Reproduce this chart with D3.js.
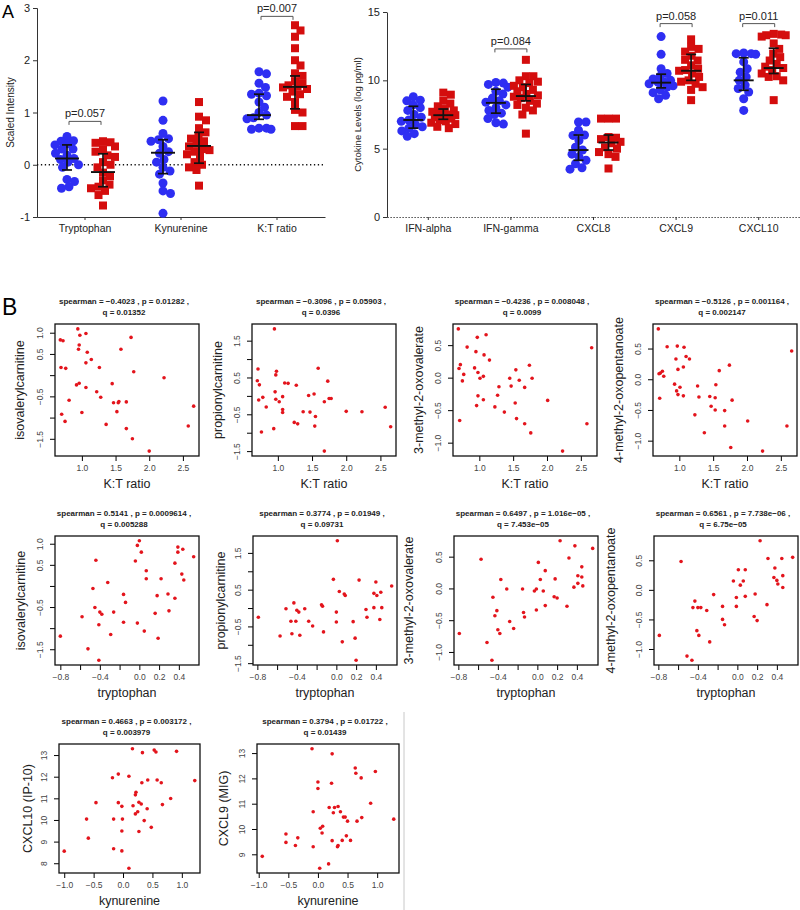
<!DOCTYPE html>
<meta charset="utf-8">
<script src="https://cdn.jsdelivr.net/npm/d3@7"></script>
<style>
body{margin:0;background:#fff}
svg{font-family:Arial,"Liberation Sans",sans-serif}
</style>
<body>
<script>
// ---------- panel A, metabolites ----------
var metabCats = ["Tryptophan","Kynurenine","K:T ratio"];
var trpCtl  = [0.54,0.46,0.45,0.40,0.38,0.30,0.30,0.22,0.18,0.12,0.10,0.05,0.0,-0.05,-0.28,-0.32,-0.42,-0.45];
var trpCase = [0.45,0.43,0.42,0.35,0.30,0.25,0.18,0.15,0.05,0.0,-0.05,-0.15,-0.22,-0.30,-0.38,-0.42,-0.45,-0.50,-0.58,-0.78];
var kynCtl  = [1.22,0.85,0.60,0.50,0.48,0.45,0.35,0.25,0.22,0.10,0.05,-0.05,-0.12,-0.18,-0.35,-0.50,-0.55,-0.93];
var kynCase = [1.20,0.92,0.85,0.70,0.62,0.55,0.50,0.45,0.40,0.35,0.30,0.28,0.25,0.20,0.15,0.05,0.0,-0.05,-0.10,-0.40];
var ktCtl   = [1.78,1.74,1.56,1.48,1.37,1.35,1.32,1.20,1.10,1.00,0.95,0.90,0.88,0.70,0.70,0.68,0.68];
var ktCase  = [2.67,2.57,2.45,2.23,2.00,1.90,1.75,1.70,1.60,1.55,1.52,1.50,1.48,1.45,1.40,1.35,1.30,1.20,1.05,1.00,0.74,0.74];
var metabCtlMid = [0.12,0.23,0.95], metabCtlLo = [-0.10,-0.17,0.87], metabCtlHi = [0.38,0.48,1.35];
var metabCaseMid = [-0.14,0.36,1.49], metabCaseLo = [-0.42,0.03,1.07], metabCaseHi = [0.21,0.62,1.70];
var metabPCat = [0,2], metabPText = ["p=0.057","p=0.007"], metabPLevel = [0.83,2.84];
var metabTicks = [-1,0,1,2,3];

// ---------- panel A, cytokines ----------
var cytoCats = ["IFN-alpha","IFN-gamma","CXCL8","CXCL9","CXCL10"];
var ifnaCtl  = [8.8,8.55,8.5,8.2,8.0,7.8,7.5,7.3,7.1,7.0,6.8,6.6,6.5,6.3,6.1,5.9];
var ifnaCase = [9.1,8.95,8.5,8.3,8.1,7.9,7.8,7.7,7.6,7.5,7.45,7.4,7.3,7.2,7.1,7.0,6.9,6.8,6.6,6.5];
var ifngCtl  = [9.85,9.8,9.7,9.5,9.2,9.0,8.7,8.5,8.4,8.2,8.0,7.8,7.6,7.5,7.2,6.9,6.8];
var ifngCase = [11.5,10.3,10.3,10.0,9.9,9.8,9.6,9.5,9.3,9.2,9.0,8.9,8.8,8.7,8.5,8.3,8.2,8.0,7.8,7.5,6.1];
var cxcl8Ctl  = [6.95,6.95,6.35,6.0,5.97,5.6,5.1,4.9,4.6,4.4,4.15,3.9,3.6,3.5];
var cxcl8Case = [7.2,7.2,7.2,5.85,5.8,5.7,5.5,5.4,5.1,5.0,4.75,4.6,4.4,3.55];
var cxcl9Ctl  = [13.2,11.9,10.85,10.5,10.3,10.1,10.0,9.9,9.85,9.75,9.6,9.5,9.3,9.1,8.9,8.65];
var cxcl9Case = [13.0,12.45,12.3,12.1,11.8,11.5,11.45,11.1,10.85,10.75,10.7,10.5,10.25,10.0,9.9,9.75,9.5,9.3,8.55];
var cxcl10Ctl  = [12.0,11.95,11.9,11.95,11.35,10.85,10.6,10.25,10.0,9.65,9.4,9.15,8.65,7.8];
var cxcl10Case = [13.4,13.35,13.3,13.3,13.2,12.7,12.3,11.95,11.7,11.45,11.2,11.0,10.9,10.75,10.5,10.3,10.25,10.0,8.55];
var cytoCtlMid = [7.1,8.35,4.9,9.83,10.0], cytoCtlLo = [6.5,7.6,4.15,9.45,9.27], cytoCtlHi = [8.1,9.35,6.0,10.45,11.65];
var cytoCaseMid = [7.45,8.85,5.45,10.7,10.9], cytoCaseLo = [7.15,8.5,4.9,10.0,10.5], cytoCaseHi = [7.9,9.7,6.0,11.9,12.35];
var cytoPCat = [1,3,4], cytoPText = ["p=0.084","p=0.058","p=0.011"], cytoPLevel = [12.3,14.15,14.15];
var cytoTicks = [0,5,10,15];

// ---------- panel B, scatter plots ----------
var isoKtX = [0.94,1.06,0.97,0.68,0.72,1.73,0.96,0.95,1.08,1.58,1.14,1.06,1.26,0.69,0.76,1.77,2.22,0.96,0.92,1.45,1.06,1.22,1.28,0.81,1.47,1.54,1.55,1.66,2.66,0.70,1.0,1.52,0.75,1.36,2.58,1.66,1.75,2.00];
var isoKtY = [1.09,0.98,0.94,0.83,0.81,0.89,0.71,0.61,0.54,0.61,0.37,0.29,0.18,0.18,0.16,0.08,-0.06,-0.19,-0.23,-0.20,-0.29,-0.39,-0.52,-0.59,-0.65,-0.65,-0.62,-0.63,-0.73,-0.92,-0.88,-0.86,-1.09,-1.16,-1.20,-1.26,-1.50,-1.79];
var propKtX = [0.95,0.71,1.59,0.98,0.97,0.70,0.73,1.73,1.10,1.15,1.27,0.96,0.78,0.72,0.97,1.07,1.02,1.45,1.53,1.68,1.75,1.78,0.83,1.07,1.07,1.37,1.47,2.00,2.23,2.57,1.55,1.24,1.29,1.54,0.76,0.94,2.65,1.68];
var propKtY = [1.82,0.73,0.75,0.67,0.57,0.41,0.30,0.40,0.35,0.34,0.29,0.11,-0.04,-0.11,-0.09,-0.02,-0.16,0.01,0.05,-0.16,-0.07,-0.07,-0.30,-0.37,-0.45,-0.43,-0.44,-0.42,-0.43,-0.31,-0.56,-0.72,-0.76,-0.82,-0.98,-0.89,-0.84,-1.50];
var mo3KtX = [0.69,1.10,0.97,0.82,2.66,0.95,1.07,1.15,0.72,0.70,1.74,1.54,0.93,0.98,0.77,1.06,1.01,0.75,1.45,1.59,1.78,1.29,1.47,1.67,0.98,1.27,1.06,2.01,1.53,0.96,1.23,1.37,1.55,0.71,1.67,2.59,1.76,2.23];
var mo3KtY = [0.75,0.66,0.62,0.47,0.46,0.40,0.35,0.27,0.20,0.14,0.19,0.12,0.15,0.08,0.05,0.02,-0.01,-0.05,-0.01,-0.04,-0.01,-0.14,-0.13,-0.15,-0.28,-0.27,-0.34,-0.35,-0.39,-0.43,-0.45,-0.53,-0.63,-0.66,-0.71,-0.71,-0.85,-1.13];
var mo4KtX = [0.69,0.82,0.97,1.07,2.66,0.95,1.10,1.15,1.06,0.98,1.74,1.59,0.75,0.72,0.70,0.77,0.93,1.54,1.01,0.96,0.98,1.27,1.06,0.71,1.29,1.45,1.53,1.78,1.47,1.53,1.67,1.23,2.01,1.67,2.59,1.37,1.76,2.23];
var mo4KtY = [0.82,0.53,0.54,0.52,0.46,0.33,0.37,0.33,0.20,0.16,0.23,0.14,0.13,0.10,0.09,0.05,-0.08,-0.09,-0.13,-0.19,-0.25,-0.11,-0.27,-0.31,-0.29,-0.28,-0.30,-0.34,-0.44,-0.50,-0.51,-0.58,-0.68,-0.76,-0.76,-0.87,-1.11,-1.17];
var isoTrpX = [0.0,-0.02,0.39,0.44,0.02,0.39,0.55,-0.44,-0.04,0.36,0.07,0.43,0.07,0.22,0.45,-0.32,-0.47,-0.16,0.29,0.18,0.36,-0.14,-0.45,0.30,-0.40,-0.26,-0.38,0.16,-0.58,-0.16,-0.02,-0.41,0.05,-0.29,-0.80,0.19,-0.52,-0.41];
var isoTrpY = [1.07,0.96,0.92,0.87,0.80,0.80,0.69,0.61,0.59,0.54,0.36,0.28,0.17,0.17,0.14,0.08,-0.06,-0.20,-0.19,-0.23,-0.29,-0.39,-0.51,-0.59,-0.62,-0.62,-0.67,-0.65,-0.73,-0.86,-0.88,-0.92,-1.07,-1.15,-1.19,-1.24,-1.49,-1.76];
var propTrpX = [0.01,-0.03,0.23,0.40,0.56,0.03,0.08,0.09,0.45,0.38,0.41,-0.43,-0.15,-0.14,-0.51,-0.40,-0.38,-0.32,0.38,0.46,0.30,0.0,0.31,-0.46,-0.41,-0.28,0.0,0.17,0.44,-0.24,-0.13,-0.45,-0.57,-0.37,0.06,0.19,-0.79,0.20];
var propTrpY = [1.83,0.78,0.76,0.71,0.60,0.45,0.38,0.34,0.43,0.40,0.34,0.14,0.09,0.05,-0.02,-0.06,-0.11,-0.02,0.01,0.01,-0.04,-0.11,-0.25,-0.36,-0.36,-0.36,-0.38,-0.37,-0.31,-0.49,-0.65,-0.70,-0.76,-0.74,-0.92,-0.82,-0.25,-1.42];
var mo3TrpX = [0.23,0.38,0.56,-0.57,0.32,0.01,0.45,0.08,0.41,0.45,0.18,-0.37,0.03,0.37,0.46,0.41,-0.31,-0.15,-0.01,-0.03,0.06,0.17,0.20,-0.45,0.08,0.30,-0.41,-0.01,-0.14,-0.13,-0.43,-0.28,-0.24,-0.40,-0.38,-0.79,-0.51,-0.46];
var mo3TrpY = [0.75,0.67,0.63,0.46,0.48,0.41,0.34,0.28,0.20,0.18,0.15,0.14,0.14,0.02,0.04,0.08,-0.01,-0.01,-0.01,-0.04,-0.04,-0.13,-0.15,-0.14,-0.27,-0.28,-0.35,-0.34,-0.38,-0.45,-0.43,-0.52,-0.63,-0.65,-0.71,-0.71,-0.85,-1.13];
var mo4TrpX = [0.23,0.56,0.31,0.45,-0.57,0.01,0.08,0.38,0.37,0.40,0.46,-0.04,0.06,0.03,0.41,0.46,-0.24,0.18,0.08,-0.01,-0.43,-0.15,-0.01,-0.45,-0.40,-0.37,-0.31,0.30,-0.15,0.17,0.20,-0.13,-0.41,-0.39,-0.28,-0.79,-0.51,-0.46];
var mo4TrpY = [0.83,0.55,0.53,0.53,0.48,0.34,0.34,0.37,0.21,0.16,0.24,0.15,0.15,0.08,0.10,0.04,-0.08,-0.07,-0.11,-0.13,-0.19,-0.28,-0.28,-0.30,-0.30,-0.30,-0.35,-0.25,-0.50,-0.45,-0.52,-0.59,-0.69,-0.77,-0.88,-0.77,-1.12,-1.19];
var cxcl10KynX = [0.16,0.53,0.56,0.91,0.33,-0.08,-0.18,0.10,0.32,0.42,0.58,0.65,1.22,0.22,0.21,0.81,-0.46,-0.08,0.27,0.31,-0.02,0.17,0.67,0.41,0.21,0.25,-0.62,-0.16,-0.01,0.36,0.48,-0.02,0.27,-0.59,-0.16,-0.02,-1.0,0.10];
var cxcl10KynY = [13.29,13.23,13.14,13.17,13.11,12.12,11.95,12.02,11.72,11.85,11.85,11.72,11.82,11.28,11.16,10.99,10.80,10.80,10.82,10.74,10.63,10.66,10.71,10.52,10.28,10.38,10.04,10.04,10.04,9.97,9.66,9.49,9.47,9.16,8.67,8.57,8.56,7.77];
var cxcl9KynX = [-0.10,0.24,0.63,0.97,0.64,0.73,0.23,0.0,0.0,0.89,1.28,-0.08,0.19,0.28,0.34,0.26,0.38,0.43,0.46,0.74,0.50,0.66,0.08,0.04,0.07,-0.54,-0.34,0.48,0.24,0.41,0.55,-0.54,-0.38,0.34,0.33,-0.08,-0.94,0.18,0.03];
var cxcl9KynY = [13.17,12.97,12.41,12.27,12.20,12.02,11.81,11.86,11.60,11.02,10.39,10.68,10.85,10.85,10.89,10.64,10.68,10.47,10.47,10.45,10.31,10.31,10.11,10.03,9.84,9.80,9.65,9.73,9.54,9.55,9.55,9.47,9.35,9.35,9.30,9.30,8.92,8.62,8.45];

var scatterX = [isoKtX,propKtX,mo3KtX,mo4KtX,isoTrpX,propTrpX,mo3TrpX,mo4TrpX,cxcl10KynX,cxcl9KynX];
var scatterY = [isoKtY,propKtY,mo3KtY,mo4KtY,isoTrpY,propTrpY,mo3TrpY,mo4TrpY,cxcl10KynY,cxcl9KynY];
var yNames = ["isovalerylcarnitine","propionylcarnitine","3-methyl-2-oxovalerate","4-methyl-2-oxopentanoate",
              "isovalerylcarnitine","propionylcarnitine","3-methyl-2-oxovalerate","4-methyl-2-oxopentanoate",
              "CXCL10 (IP-10)","CXCL9 (MIG)"];
var xNames = ["K:T ratio","K:T ratio","K:T ratio","K:T ratio","tryptophan","tryptophan","tryptophan","tryptophan","kynurenine","kynurenine"];
var titleTop = ["spearman = \u22120.4023 , p = 0.01282 ,","spearman = \u22120.3096 , p = 0.05903 ,",
                "spearman = \u22120.4236 , p = 0.008048 ,","spearman = \u22120.5126 , p = 0.001164 ,",
                "spearman = 0.5141 , p = 0.0009614 ,","spearman = 0.3774 , p = 0.01949 ,",
                "spearman = 0.6497 , p = 1.016e\u221205 ,","spearman = 0.6561 , p = 7.738e\u221206 ,",
                "spearman = 0.4663 , p = 0.003172 ,","spearman = 0.3794 , p = 0.01722 ,"];
var titleBottom = ["q = 0.01352","q = 0.0396","q = 0.0099","q = 0.002147","q = 0.005288","q = 0.09731",
                   "q = 7.453e\u221205","q = 6.75e\u221205","q = 0.003979","q = 0.01439"];
var ktTicks = [1.0,1.5,2.0,2.5], trpTicks = [-0.8,-0.6,-0.4,-0.2,0.0,0.2,0.4], kynTicks = [-1.0,-0.5,0.0,0.5,1.0];
var xTickSets = [ktTicks,ktTicks,ktTicks,ktTicks,trpTicks,trpTicks,trpTicks,trpTicks,kynTicks,kynTicks];
var xTickHidden = [[],[],[],[],[-0.6,-0.2],[-0.6,-0.2],[-0.6,-0.2],[-0.6,-0.2],[],[]];
var yTickSets = [[-1.5,-1,-0.5,0,0.5,1],[-1.5,-1,-0.5,0,0.5,1,1.5],[-1,-0.5,0,0.5],[-1,-0.5,0,0.5],
                 [-1.5,-1,-0.5,0,0.5,1],[-1.5,-1,-0.5,0,0.5,1,1.5],[-1,-0.5,0,0.5],[-1,-0.5,0,0.5],
                 [8,9,10,11,12,13],[9,10,11,12,13]];
var yTickHidden = [[-1,0],[-1,0,1],[],[],[-1,0],[-1,0,1],[],[],[],[]];

// layout of the scatter boxes
var boxLeft = [55,252,453,653,55,253,454,654,59,257];
var boxTop  = [324,324,324,324,536,536,536,536,744,744];
var boxW    = [144,144,144,144,144,144,144,144,141,142];
var boxH    = [132,132,132,132,129,129,129,129,129,129];
var yLabOff = [35,34,34,34,34,32,45,43,31,33];

var BLUE = "#2e2ef2", RED = "#d40d0d", DOT = "#e3141c";

var svg = d3.select("body").append("svg").attr("width",800).attr("height",910);

svg.append("text").attr("x",2).attr("y",18).attr("font-size",18).text("A");
svg.append("text").attr("x",2).attr("y",315).attr("font-size",23).text("B");

// simple beeswarm, points may overlap a little and stay within maxOff
function swarm(vals, y, gap, maxOff){
  var placed = [], offs = new Array(vals.length);
  var order = d3.range(vals.length).sort(function(a,b){return vals[b]-vals[a];});
  order.forEach(function(i){
    var py = y(vals[i]), best = 0, bestD = -1;
    for(var k=0;k<=maxOff*4;k++){
      var o = (k%2 ? 1 : -1)*Math.ceil(k/2)*0.5;
      var dmin = d3.min(placed, function(p){var dx=p[0]-o, dy=p[1]-py; return Math.sqrt(dx*dx+dy*dy);});
      if(dmin===undefined || dmin>=gap){best=o;bestD=gap;break;}
      if(dmin>bestD){bestD=dmin;best=o;}
    }
    offs[i]=best; placed.push([best,py]);
  });
  return offs;
}

function drawGroup(g, vals, cx, y, isCase, mid, lo, hi, half){
  var offs = swarm(vals, y, 7.5, 12);
  if(isCase){
    g.append("g").selectAll("rect").data(vals).enter().append("rect")
      .attr("x",function(d,i){return cx+offs[i]-4;})
      .attr("y",function(d){return y(d)-4;})
      .attr("width",8).attr("height",8).attr("fill",RED);
  } else {
    g.append("g").selectAll("circle").data(vals).enter().append("circle")
      .attr("cx",function(d,i){return cx+offs[i];})
      .attr("cy",function(d){return y(d);})
      .attr("r",4.5).attr("fill",BLUE);
  }
  var e = g.append("g").attr("stroke","#111").attr("stroke-width",1.7);
  e.append("line").attr("x1",cx).attr("x2",cx).attr("y1",y(lo)).attr("y2",y(hi));
  e.append("line").attr("x1",cx-5).attr("x2",cx+5).attr("y1",y(lo)).attr("y2",y(lo));
  e.append("line").attr("x1",cx-5).attr("x2",cx+5).attr("y1",y(hi)).attr("y2",y(hi));
  e.append("line").attr("x1",cx-half).attr("x2",cx+half).attr("y1",y(mid)).attr("y2",y(mid)).attr("stroke-width",1.9);
}

function bracket(g, x1, x2, yy, label){
  g.append("path").attr("d","M"+x1+","+(yy+3.5)+"V"+yy+"H"+x2+"V"+(yy+3.5))
    .attr("fill","none").attr("stroke","#555").attr("stroke-width",1);
  g.append("text").attr("x",(x1+x2)/2).attr("y",yy-4).attr("text-anchor","middle")
    .attr("font-size",11).attr("fill","#222").text(label);
}

// ---- A left
var ax = d3.scaleBand().domain(metabCats).range([37,325]);
var ay = d3.scaleLinear().domain([-1,3]).range([217,8]);
var gl = svg.append("g");
gl.append("g").attr("transform","translate(37,0)")
  .call(d3.axisLeft(ay).tickValues(metabTicks).tickSize(4).tickFormat(function(d){return String(d);}))
  .call(function(s){s.selectAll("text").attr("font-size",11).attr("fill","#222");s.selectAll("path,line").attr("stroke","#333");});
gl.append("g").attr("transform","translate(0,217)")
  .call(d3.axisBottom(ax).tickSize(3).tickSizeOuter(0))
  .call(function(s){s.selectAll("text").attr("font-size",10.5).attr("fill","#222").attr("dy","0.85em");s.selectAll("path,line").attr("stroke","#333");});
gl.append("line").attr("x1",37).attr("x2",325).attr("y1",ay(0)).attr("y2",ay(0))
  .attr("stroke","#111").attr("stroke-width",1.3).attr("stroke-dasharray","1.3,2.6");
gl.append("text").attr("transform","translate(14,"+ay(1)+") rotate(-90)").attr("text-anchor","middle")
  .attr("font-size",10).attr("fill","#222").text("Scaled Intensity");
var metabCtl = [trpCtl,kynCtl,ktCtl], metabCase = [trpCase,kynCase,ktCase];
metabCats.forEach(function(c,i){
  var cx = ax(c)+ax.bandwidth()/2;
  drawGroup(gl, metabCtl[i], cx-18, ay, false, metabCtlMid[i], metabCtlLo[i], metabCtlHi[i], 12);
  drawGroup(gl, metabCase[i], cx+18, ay, true, metabCaseMid[i], metabCaseLo[i], metabCaseHi[i], 12);
});
metabPCat.forEach(function(ci,i){
  var cx = ax(metabCats[ci])+ax.bandwidth()/2;
  bracket(gl, cx-16, cx+16, ay(metabPLevel[i]), metabPText[i]);
});

// ---- A right
var cxs = d3.scaleBand().domain(cytoCats).range([387,800]);
var cy = d3.scaleLinear().domain([0,15]).range([217,12]);
var gr = svg.append("g");
gr.append("g").attr("transform","translate(387,0)")
  .call(d3.axisLeft(cy).tickValues(cytoTicks).tickSize(4).tickSizeOuter(0))
  .call(function(s){s.selectAll("text").attr("font-size",11).attr("fill","#222");s.selectAll("path,line").attr("stroke","#333");});
gr.append("g").attr("transform","translate(0,217)")
  .call(d3.axisBottom(cxs).tickSize(3).tickSizeOuter(0))
  .call(function(s){s.selectAll("text").attr("font-size",10.5).attr("fill","#222").attr("dy","0.85em");
    s.selectAll("line").attr("stroke","#333");
    s.select(".domain").attr("stroke","#222").attr("stroke-width",1.2).attr("stroke-dasharray","1.2,1.8");});
gr.append("text").attr("transform","translate(361,"+cy(7.5)+") rotate(-90)").attr("text-anchor","middle")
  .attr("font-size",9.5).attr("fill","#222").text("Cytokine Levels (log pg/ml)");
var cytoCtl = [ifnaCtl,ifngCtl,cxcl8Ctl,cxcl9Ctl,cxcl10Ctl], cytoCase = [ifnaCase,ifngCase,cxcl8Case,cxcl9Case,cxcl10Case];
cytoCats.forEach(function(c,i){
  var cx = cxs(c)+cxs.bandwidth()/2;
  drawGroup(gr, cytoCtl[i], cx-15, cy, false, cytoCtlMid[i], cytoCtlLo[i], cytoCtlHi[i], 10);
  drawGroup(gr, cytoCase[i], cx+15, cy, true, cytoCaseMid[i], cytoCaseLo[i], cytoCaseHi[i], 10);
});
cytoPCat.forEach(function(ci,i){
  var cx = cxs(cytoCats[ci])+cxs.bandwidth()/2;
  bracket(gr, cx-16, cx+16, cy(cytoPLevel[i]), cytoPText[i]);
});

// ---- B scatter plots
function padded(v){var e=d3.extent(v), p=(e[1]-e[0])*0.04; return [e[0]-p,e[1]+p];}
var fmt1 = d3.format(".1f");

scatterX.forEach(function(xs,k){
  var ys = scatterY[k];
  var L = boxLeft[k], T = boxTop[k], W = boxW[k], H = boxH[k];
  var x = d3.scaleLinear().domain(padded(xs)).range([L,L+W]);
  var y = d3.scaleLinear().domain(padded(ys)).range([T+H,T]);
  var g = svg.append("g");
  var intTicks = k>=8;

  var xa = g.append("g").attr("transform","translate(0,"+(T+H)+")")
    .call(d3.axisBottom(x).tickValues(xTickSets[k]).tickSize(5)
      .tickFormat(function(d){return xTickHidden[k].indexOf(d)>=0 ? "" : fmt1(d);}));
  xa.select(".domain").remove();
  xa.selectAll("text").attr("font-size",8.5).attr("fill","#444").attr("y",9).attr("dy","0.71em");

  var ya = g.append("g").attr("transform","translate("+L+",0)")
    .call(d3.axisLeft(y).tickValues(yTickSets[k]).tickSize(5)
      .tickFormat(function(d){return yTickHidden[k].indexOf(d)>=0 ? "" : (intTicks ? String(d) : fmt1(d));}));
  ya.select(".domain").remove();
  ya.selectAll("text").attr("font-size",8.5).attr("fill","#444")
    .attr("transform","rotate(-90)").attr("x",0).attr("y",-12).attr("dy",0).attr("text-anchor","middle");

  g.append("rect").attr("x",L).attr("y",T).attr("width",W).attr("height",H)
    .attr("fill","none").attr("stroke","#111").attr("stroke-width",1.3);

  g.append("g").selectAll("circle").data(d3.zip(xs,ys)).enter().append("circle")
    .attr("cx",function(d){return x(d[0]);}).attr("cy",function(d){return y(d[1]);})
    .attr("r",1.8).attr("fill",DOT);

  g.append("text").attr("x",L+W/2-3).attr("y",T-20).attr("text-anchor","middle")
    .attr("font-size",8).attr("font-weight","bold").attr("fill","#222").text(titleTop[k]);
  g.append("text").attr("x",L+W/2-3).attr("y",T-9).attr("text-anchor","middle")
    .attr("font-size",8).attr("font-weight","bold").attr("fill","#222").text(titleBottom[k]);

  g.append("text").attr("x",L+W/2).attr("y",T+H+32).attr("text-anchor","middle")
    .attr("font-size",12.5).attr("fill","#222").text(xNames[k]);
  g.append("text").attr("transform","translate("+(L-yLabOff[k])+","+(T+H/2)+") rotate(-90)")
    .attr("dy","0.35em").attr("text-anchor","middle")
    .attr("font-size",12.5).attr("fill","#222").text(yNames[k]);
});

svg.append("line").attr("x1",404).attr("x2",404).attr("y1",712).attr("y2",910)
  .attr("stroke","#c8c8c8").attr("stroke-width",1);
</script>
</body>
